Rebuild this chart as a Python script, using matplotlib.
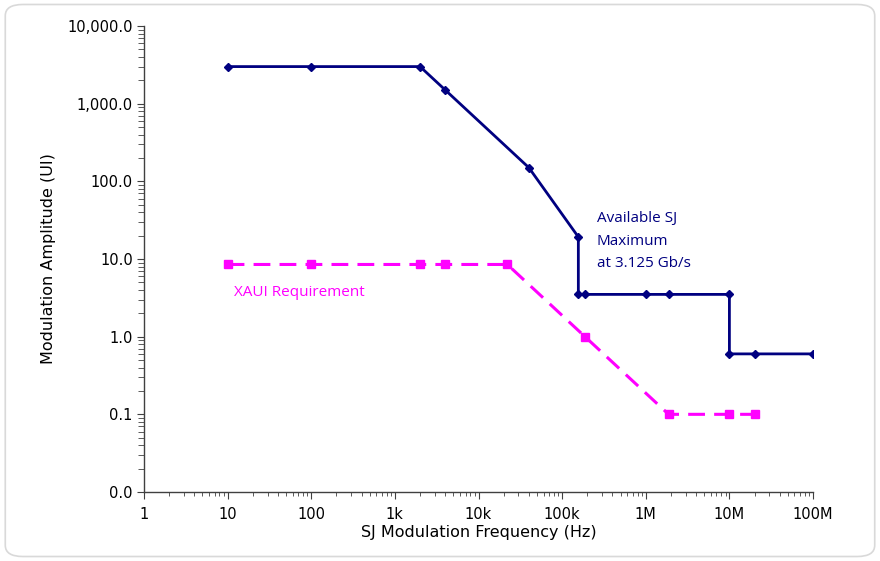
import matplotlib
matplotlib.use("Agg")
import matplotlib.pyplot as plt
from matplotlib.patches import FancyBboxPatch
from matplotlib.ticker import FixedLocator, LogLocator, NullFormatter

# Data
sj_freq = [10, 100, 2000, 4000, 40000, 156250, 156250, 187500, 1e6, 1.875e6, 1e7, 1e7, 2e7, 1e8]
sj_amp = [3000, 3000, 3000, 1500, 150, 19.2, 3.5, 3.5, 3.5, 3.5, 3.5, 0.6, 0.6, 0.6]

xaui_freq = [10, 100, 2000, 4000, 22100, 187500, 1.875e6, 1e7, 2e7]
xaui_amp = [8.5, 8.5, 8.5, 8.5, 8.5, 1.0, 0.1, 0.1, 0.1]

x_ticks = [1, 10, 100, 1e3, 1e4, 1e5, 1e6, 1e7, 1e8]
x_labels = ["1", "10", "100", "1k", "10k", "100k", "1M", "10M", "100M"]
y_ticks = [0.01, 0.1, 1, 10, 100, 1000, 10000]
y_labels = ["0.0", "0.1", "1.0", "10.0", "100.0", "1,000.0", "10,000.0"]

navy = "#000080"
magenta = "#FF00FF"

fig = plt.figure(figsize=(8.8, 5.61), dpi=100)
border = FancyBboxPatch((0.006, 0.008), 0.988, 0.984, boxstyle="round,pad=0,rounding_size=0.02",
                        transform=fig.transFigure, facecolor="none", edgecolor="#d9d9d9",
                        linewidth=1.2, zorder=-1)
fig.patches.append(border)

ax = fig.add_axes([0.1636, 0.123, 0.7603, 0.8307])
ax.set_facecolor("none")
ax.set_xscale("log")
ax.set_yscale("log")
ax.set_xlim(1, 1e8)
ax.set_ylim(0.01, 10000)

ax.plot(sj_freq, sj_amp, color=navy, lw=2, marker="D", ms=4, mfc=navy, mec=navy, zorder=3)
ax.plot(xaui_freq, xaui_amp, color=magenta, lw=2.2, ls=(0, (5.5, 3)), marker="s", ms=6,
        mfc=magenta, mec=magenta, zorder=2)

ax.xaxis.set_major_locator(FixedLocator(x_ticks))
ax.set_xticklabels(x_labels)
ax.xaxis.set_minor_locator(LogLocator(base=10, subs=range(2, 10), numticks=100))
ax.xaxis.set_minor_formatter(NullFormatter())
ax.yaxis.set_major_locator(FixedLocator(y_ticks))
ax.set_yticklabels(y_labels)
ax.yaxis.set_minor_locator(LogLocator(base=10, subs=range(2, 10), numticks=100))
ax.yaxis.set_minor_formatter(NullFormatter())

for s in ["top", "right"]:
    ax.spines[s].set_visible(False)
for s in ["left", "bottom"]:
    ax.spines[s].set_color("#404040")
    ax.spines[s].set_linewidth(1)

ax.tick_params(axis="x", which="major", direction="out", length=5, color="#404040", labelsize=10.5, pad=6)
ax.tick_params(axis="x", which="minor", direction="out", length=3, color="#404040")
ax.tick_params(axis="y", which="major", direction="out", length=5, color="#404040", labelsize=10.5, pad=3)
ax.tick_params(axis="y", which="minor", direction="out", length=4, color="#404040")

ax.set_xlabel("SJ Modulation Frequency (Hz)", fontsize=11.5, labelpad=2)
ax.set_ylabel("Modulation Amplitude (UI)", fontsize=11.5, labelpad=8)

ax.text(2.6e5, 17, "Available SJ\nMaximum\nat 3.125 Gb/s", color=navy, fontsize=11,
        family="Open Sans", va="center", ha="left", linespacing=1.65)
ax.text(11.8, 3.75, "XAUI Requirement", color=magenta, fontsize=11, family="Open Sans",
        va="center", ha="left")

fig.savefig("out.png", dpi=100)
